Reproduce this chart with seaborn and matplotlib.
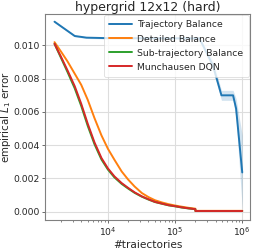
import numpy as np
import pandas as pd
import seaborn as sns
import matplotlib
matplotlib.use("Agg")
import matplotlib.pyplot as plt

# ---- data ----
x_main = [1600, 2000, 2500, 3200, 4000, 5000, 6300, 8000, 10000, 12500, 16000, 20000,
          25000, 32000, 40000, 50000, 63000, 80000, 100000, 125000, 160000, 200000,
          201000, 1000000]
db_vals = [0.0102, 0.00963, 0.00904, 0.00830, 0.00763, 0.00673, 0.00563, 0.00459,
           0.00378, 0.00312, 0.00242, 0.00193, 0.00151, 0.00112, 0.00088, 0.00069,
           0.00056, 0.00045, 0.00037, 0.00030, 0.00023, 0.00018, 0.00005, 0.00005]
mdqn_vals = [0.0101, 0.00932, 0.0085, 0.00755, 0.00649, 0.00529, 0.00417, 0.00323,
             0.0026, 0.00212, 0.00172, 0.00143, 0.00116, 0.00092, 0.00075, 0.00059,
             0.00049, 0.00039, 0.00033, 0.00026, 0.00020, 0.00015, 0.00004, 0.00004]
subtb_vals = [0.0101, 0.00925, 0.0084, 0.00742, 0.00636, 0.00516, 0.00406, 0.00314,
              0.00253, 0.00206, 0.00167, 0.00139, 0.00113, 0.00090, 0.00073, 0.00058,
              0.00048, 0.00038, 0.00032, 0.00025, 0.00019, 0.00015, 0.00004, 0.00004]

x_tb = [1600, 3200, 4800, 10000, 100000, 230000, 366000, 490000, 730000, 810000, 1000000]
tb_vals = [0.01143, 0.01057, 0.01047, 0.01044, 0.01043, 0.01043, 0.0088, 0.0070, 0.0070, 0.0062, 0.00236]
tb_low = [0.01138, 0.01052, 0.01042, 0.01039, 0.01038, 0.01036, 0.0085, 0.0067, 0.0067, 0.0056, 0.0002]
tb_high = [0.01148, 0.01062, 0.01052, 0.01049, 0.01048, 0.01050, 0.0091, 0.0073, 0.0073, 0.0068, 0.0046]

labels = ["Trajectory Balance", "Detailed Balance", "Sub-trajectory Balance", "Munchausen DQN"]
colors = ["#1f77b4", "#ff7f0e", "#2ca02c", "#d62728"]

df = pd.concat([
    pd.DataFrame({"x": x_tb, "y": tb_vals, "method": labels[0]}),
    pd.DataFrame({"x": x_main, "y": db_vals, "method": labels[1]}),
    pd.DataFrame({"x": x_main, "y": subtb_vals, "method": labels[2]}),
    pd.DataFrame({"x": x_main, "y": mdqn_vals, "method": labels[3]}),
])

sns.set_style("ticks")
plt.rcParams["font.family"] = ["DejaVu Sans"]

fig = plt.figure(figsize=(2.55, 2.48), dpi=100)
ax = fig.add_axes([0.176, 0.113, 0.804, 0.831])

ax.fill_between(x_tb, tb_low, tb_high, color=colors[0], alpha=0.2, linewidth=0)
sns.lineplot(data=df, x="x", y="y", hue="method", hue_order=labels,
             palette=colors, ax=ax, linewidth=1.4, estimator=None, sort=False)

ax.set_xscale("log")
ax.set_xlim(1150, 1.3e6)
ax.set_ylim(-0.0005, 0.0119)
ax.set_yticks([0.0, 0.002, 0.004, 0.006, 0.008, 0.010])
ax.set_yticklabels(["0.000", "0.002", "0.004", "0.006", "0.008", "0.010"])
ax.grid(True, which="major", color="#dddddd", linewidth=0.8)
ax.set_axisbelow(True)
for s in ax.spines.values():
    s.set_color("#808080")
    s.set_linewidth(0.8)
ax.tick_params(axis="both", which="major", labelsize=6.7, length=2.5, width=0.6, color="#555555", pad=1.5)
ax.tick_params(axis="both", which="minor", length=1.5, width=0.5, color="#555555")

ax.set_title("hypergrid 12x12 (hard)", fontsize=9, pad=2)
ax.set_xlabel("#trajectories", fontsize=7.6, labelpad=1)
ax.set_ylabel("empirical $L_1$ error", fontsize=7.4, labelpad=0.3)

leg = ax.legend(loc="upper right", fontsize=6.7, frameon=True, framealpha=0.8,
                borderaxespad=0.15, handlelength=2.4, labelspacing=0.55,
                borderpad=0.55, handletextpad=0.6)
leg.get_frame().set_linewidth(0.5)

fig.savefig("out.png", dpi=100)
